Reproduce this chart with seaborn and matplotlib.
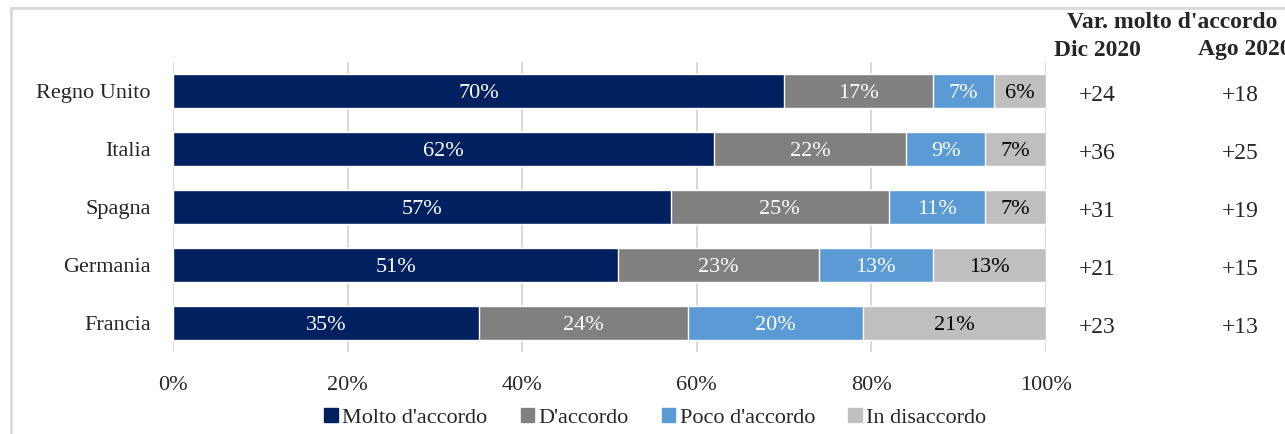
import numpy as np
import pandas as pd
import matplotlib.pyplot as plt
import matplotlib.patches as mpatches
import seaborn as sns

# dati
paesi = ['Regno Unito', 'Italia', 'Spagna', 'Germania', 'Francia']
serie = ["Molto d'accordo", "D'accordo", "Poco d'accordo", "In disaccordo"]
molto = [70, 62, 57, 51, 35]
accordo = [17, 22, 25, 23, 24]
poco = [7, 9, 11, 13, 20]
disaccordo = [6, 7, 7, 13, 21]
var_dic = ['+24', '+36', '+31', '+21', '+23']
var_ago = ['+18', '+25', '+19', '+15', '+13']
xticks = [0, 20, 40, 60, 80, 100]

colori = ['#002060', '#808080', '#5B9BD5', '#BFBFBF']
col_testo = ['white', 'white', 'white', 'black']

sns.set_style('white')
plt.rcParams['font.family'] = ['Liberation Serif', 'DejaVu Serif']

df = pd.DataFrame({'paese': paesi, serie[0]: molto, serie[1]: accordo,
                   serie[2]: poco, serie[3]: disaccordo})
cum = df[serie].cumsum(axis=1)

fig = plt.figure(figsize=(12.85, 4.34), dpi=100)
ax = fig.add_axes([173 / 1285, 1 - 352 / 434, 873 / 1285, 290 / 434])

# barre impilate: dal totale verso la prima serie
for i in range(len(serie) - 1, -1, -1):
    sns.barplot(x=cum[serie[i]], y=df['paese'], color=colori[i], orient='h',
                width=0.59, saturation=1, ax=ax, zorder=2)

# etichette dei segmenti
for i, s in enumerate(serie):
    for j, v in enumerate(df[s]):
        centro = cum[s][j] - v / 2
        ax.text(centro, j + 0.04, f'{v}%', ha='center', va='center',
                color=col_testo[i], fontsize=16)

ax.set_xlim(0, 100)
ax.set_ylim(len(paesi) - 0.5, -0.5)
ax.set_xticks(xticks)
ax.set_xticklabels([f'{t}%' for t in xticks], fontsize=16)
ax.tick_params(axis='x', pad=17, length=0)
ax.tick_params(axis='y', pad=16, length=0, labelsize=16)
ax.set_xlabel('')
ax.set_ylabel('')
ax.grid(axis='x', color='#D9D9D9', linewidth=1.5, zorder=0)
ax.set_axisbelow(True)
for sp in ax.spines.values():
    sp.set_visible(False)

# tabella a destra
fig.text(1172 / 1285, 1 - 22 / 434, "Var. molto d'accordo", ha='center', va='center',
         fontsize=17, fontweight='bold')
fig.text(1097 / 1285, 1 - 50 / 434, 'Dic 2020', ha='center', va='center',
         fontsize=17, fontweight='bold')
fig.text(1245 / 1285, 1 - 50 / 434, 'Ago 2020', ha='center', va='center',
         fontsize=17, fontweight='bold')
for j in range(len(paesi)):
    y = ax.transData.transform((0, j))[1]
    y_fig = fig.transFigure.inverted().transform((0, y))[1]
    fig.text(1097 / 1285, y_fig - 0.01, var_dic[j], ha='center', va='center', fontsize=17)
    fig.text(1240 / 1285, y_fig - 0.01, var_ago[j], ha='center', va='center', fontsize=17)

# legenda
handles = [mpatches.Patch(color=c, label=s) for c, s in zip(colori, serie)]
fig.legend(handles=handles, loc='center', bbox_to_anchor=(0.51, 1 - 418 / 434), ncol=4,
           frameon=False, fontsize=16, handlelength=0.6, handleheight=0.6,
           handletextpad=0.2, columnspacing=1.5)

# cornice
fig.patches.append(mpatches.Rectangle((11 / 1285, -0.1), 1.2, 1 - 8 / 434 + 0.1,
                                      transform=fig.transFigure, fill=False,
                                      edgecolor='#D9D9D9', linewidth=2))

fig.savefig('out.png', dpi=100)
